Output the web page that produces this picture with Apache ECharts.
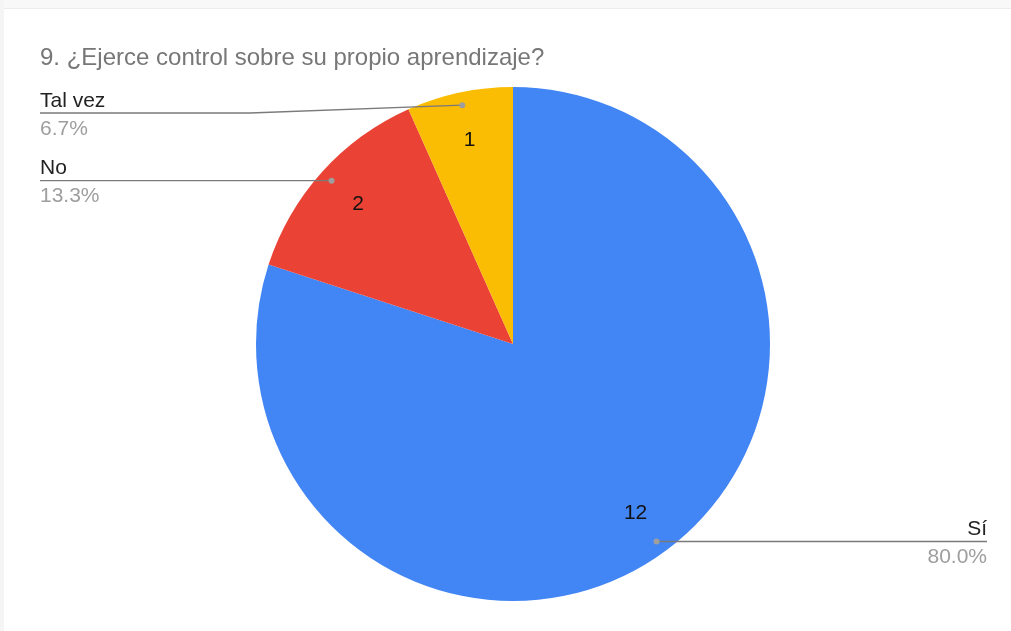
<!DOCTYPE html>
<html><head><meta charset="utf-8">
<script src="https://cdn.jsdelivr.net/npm/echarts@6/dist/echarts.min.js"></script>
<style>html,body{margin:0;padding:0;background:#fff}#c{width:1011px;height:631px}</style>
</head><body><div id="c"></div>
<script>
const titleText = '9. ¿Ejerce control sobre su propio aprendizaje?';
const categories = ['Sí', 'No', 'Tal vez'];
const values = [12, 2, 1];
const colors = ['#4285F4', '#EA4335', '#FBBC04'];

const CX = 513, CY = 344, R = 257;
const FONT = '"Liberation Sans", Arial, sans-serif';
const total = values.reduce((a, b) => a + b, 0);

function midAngle(i) {
  let s = 0;
  for (let k = 0; k < i; k++) s += values[k];
  return ((s + values[i] / 2) / total) * Math.PI * 2; // clockwise from top
}
function dotPos(i) {
  const a = midAngle(i);
  return [CX + 0.95 * R * Math.sin(a), CY - 0.95 * R * Math.cos(a)];
}
function guide(i) {
  const a = midAngle(i);
  const d = dotPos(i);
  const left = Math.sin(a) < 0;
  const y = Math.max(d[1], 113);
  const endX = left ? 40 : 987;
  const elbowX = left ? CX - R - 6 : CX + R + 6;
  return { left, y, endX, pts: [[d[0], d[1]], [elbowX, y], [endX, y]] };
}

const data = categories.map((c, i) => ({ name: c, value: values[i], itemStyle: { color: colors[i] } }));

const guides = [];
categories.forEach((c, i) => {
  const g = guide(i);
  const p = dotPos(i);
  guides.push({ type: 'polyline', shape: { points: g.pts }, style: { stroke: '#7a7a7a', lineWidth: 1.3, fill: null }, z: 100, silent: true });
  guides.push({ type: 'circle', shape: { cx: p[0], cy: p[1], r: 3 }, style: { fill: '#9e9e9e' }, z: 101, silent: true });
});

const chart = echarts.init(document.getElementById('c'));
chart.setOption({
  backgroundColor: '#fff',
  animation: false,
  title: {
    text: titleText, left: 35, top: 41,
    textStyle: { fontFamily: FONT, fontSize: 24, fontWeight: 'normal', color: '#777' }
  },
  graphic: [
    { type: 'rect', shape: { x: 0, y: 0, width: 1011, height: 8 }, style: { fill: '#f8f8f8' }, silent: true },
    { type: 'rect', shape: { x: 0, y: 8, width: 1011, height: 1 }, style: { fill: '#ececec' }, silent: true },
    { type: 'rect', shape: { x: 0, y: 0, width: 4, height: 631 }, style: { fill: '#f5f5f5' }, silent: true }
  ].concat(guides),
  series: [
    {
      type: 'pie', center: [CX, CY], radius: [0, R], startAngle: 90, clockwise: true,
      avoidLabelOverlap: false, silent: true, data: data,
      itemStyle: { borderWidth: 0 },
      label: {
        show: true, position: 'outside',
        formatter: p => '{n|' + p.name + '}\n{p|' + (p.value / total * 100).toFixed(1) + '%}',
        rich: {
          n: { fontFamily: FONT, fontSize: 21, color: '#222', lineHeight: 28 },
          p: { fontFamily: FONT, fontSize: 21, color: '#9e9e9e', lineHeight: 28 }
        }
      },
      labelLine: { show: false },
      labelLayout: function (params) {
        const g = guide(params.dataIndex);
        return { x: g.endX, y: g.y + 2, align: g.left ? 'left' : 'right', verticalAlign: 'middle' };
      }
    },
    {
      type: 'pie', center: [CX, CY], radius: [0.6 * R, R], startAngle: 90, clockwise: true,
      silent: true, data: categories.map((c, i) => ({ name: c, value: values[i] })),
      itemStyle: { color: 'rgba(0,0,0,0)' },
      label: { show: true, position: 'inside', formatter: '{c}', fontFamily: FONT, fontSize: 21, color: '#111' },
      labelLine: { show: false }, z: 5
    }
  ]
});
</script></body></html>
